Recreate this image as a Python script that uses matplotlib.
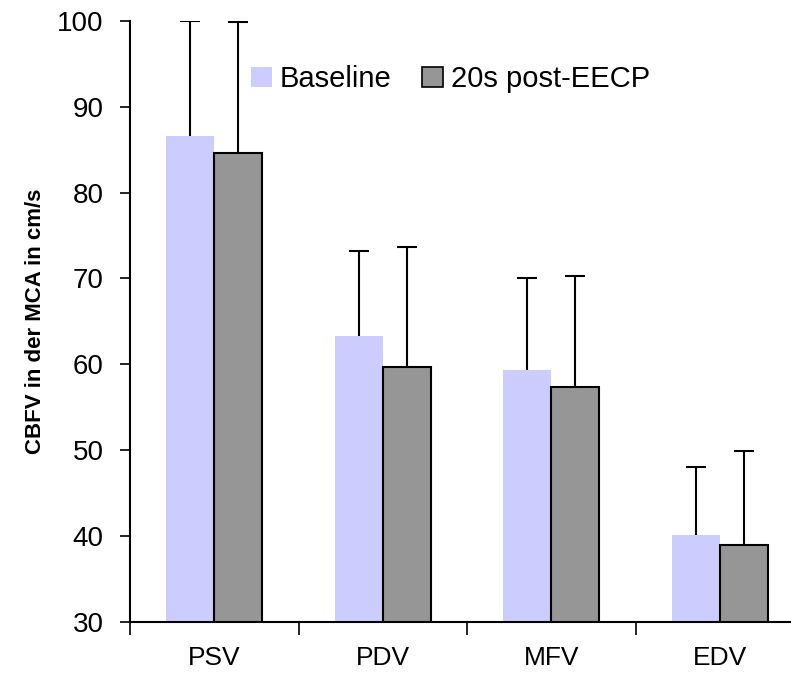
import matplotlib.pyplot as plt
import numpy as np
from matplotlib.patches import Patch

categories = ["PSV", "PDV", "MFV", "EDV"]
baseline = [86.6, 63.3, 59.3, 40.1]
baseline_err = [13.4, 9.9, 10.8, 7.9]
post = [84.6, 59.7, 57.4, 39.0]
post_err = [15.3, 14.0, 12.9, 10.9]
series_labels = ["Baseline", "20s post-EECP"]

BASE_COLOR = "#ccccff"
POST_COLOR = "#969696"

plt.rcParams["font.family"] = ["Liberation Sans", "DejaVu Sans"]

fig = plt.figure(figsize=(7.91, 6.77), dpi=100)
ax = fig.add_axes([0.1645, 0.0812, 0.852, 0.888])

x = np.arange(len(categories))
width = 0.285

ax.bar(x - width / 2, baseline, width, color=BASE_COLOR, zorder=2)
ax.bar(x + width / 2, post, width, color=POST_COLOR, edgecolor="black", linewidth=1.5, zorder=2)

# upward-only error bars with a cap at the top end only
for xs, vals, errs in [(x - width / 2, baseline, baseline_err), (x + width / 2, post, post_err)]:
    _, caps, _ = ax.errorbar(xs, vals, yerr=[np.zeros(len(vals)), errs], fmt="none",
                             ecolor="black", elinewidth=1.5, capsize=7, capthick=1.5, zorder=3)
    caps[0].set_visible(False)

ax.set_ylim(30, 100)
ax.set_xlim(-0.5, len(categories) - 0.5)
ax.set_yticks(np.arange(30, 101, 10))
ax.tick_params(axis="y", direction="out", length=7, width=1.2, labelsize=20, pad=12)

# category labels centered, ticks at boundaries
ax.set_xticks(x)
ax.set_xticklabels(categories, fontsize=19)
ax.tick_params(axis="x", which="major", length=0, pad=17)
ax.set_xticks(np.arange(len(categories)) - 0.5, minor=True)
ax.tick_params(axis="x", which="minor", direction="out", length=9, width=1.2)

for side in ("top", "right"):
    ax.spines[side].set_visible(False)
for side in ("left", "bottom"):
    ax.spines[side].set_linewidth(1.5)

ax.set_ylabel("CBFV in der MCA in cm/s", fontsize=16, fontweight="bold",
              family=["Liberation Sans Narrow", "Liberation Sans"], labelpad=8)

handles = [
    Patch(facecolor=BASE_COLOR, edgecolor="none"),
    Patch(facecolor=POST_COLOR, edgecolor="black", linewidth=1.2),
]
fig.legend(handles, series_labels, loc="center left", bbox_to_anchor=(0.317, 0.883),
           frameon=False, ncol=2, fontsize=21, handlelength=0.72, handleheight=0.72,
           handletextpad=0.28, columnspacing=1.05, borderpad=0, borderaxespad=0)

fig.savefig("out.png")
